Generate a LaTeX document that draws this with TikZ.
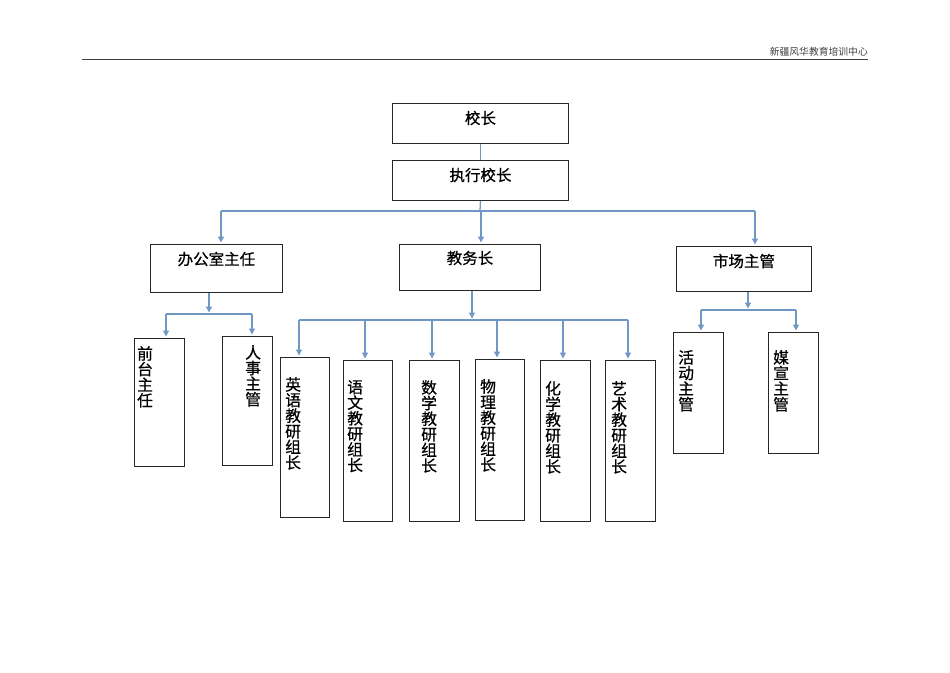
\documentclass[tikz,border=0pt]{standalone}
\usepackage{fontspec}
\setmainfont{Noto Sans CJK SC}[BoldFont={Noto Sans CJK SC}, BoldFeatures={FakeBold=0.6}]
\usetikzlibrary{arrows.meta}
\definecolor{lnblue}{RGB}{112,152,196}
\begin{document}
\begin{tikzpicture}[x=1pt,y=-1pt,
  box/.style={draw=black!85, line width=0.9pt, anchor=north west, inner sep=0pt},
  htext/.style={font=\fontsize{15.5}{16}\selectfont\bfseries, inner sep=0pt, anchor=center},
  vtext/.style={font=\fontsize{15.8}{15.6}\selectfont\bfseries, inner sep=0pt, align=center, anchor=north west},
  conn/.style={draw=lnblue, line width=1.3pt},
  arr/.style={conn, -{Triangle[width=6pt,length=6pt]}, shorten >=1.5pt},
]
\useasboundingbox (0,0) rectangle (950,672);
% header
\node[anchor=south east, inner sep=0pt, font=\fontsize{9.8}{11}\selectfont, text=black!75] (hdr) at (868,56.5) {新疆风华教育培训中心};
\draw[black!75, line width=0.8pt] (82,59.5) coordinate (hl) -- (868,59.5) coordinate (hr);

% top boxes
\node[box, minimum width=176pt, minimum height=40pt, label={[htext, yshift=-15pt]north:校长}] (xz) at (392,103) {};
\node[box, minimum width=176pt, minimum height=40pt, label={[htext, yshift=-15pt]north:执行校长}] (zx) at (392,160) {};
\node[box, minimum width=132pt, minimum height=48pt, label={[htext, yshift=-15pt]north:办公室主任}] (bgs) at (150,244) {};
\node[box, minimum width=141pt, minimum height=46pt, label={[htext, yshift=-14pt]north:教务长}] (jwz) at (399,244) {};
\node[box, minimum width=135pt, minimum height=45pt, label={[htext, yshift=-15pt]north:市场主管}] (sc) at (676,246) {};

% vertical boxes
\node[box, minimum width=50pt, minimum height=128pt, label={[vtext, xshift=3pt, yshift=-8pt]north west:前\\台\\主\\任}] (qt) at (134,338) {};
\node[box, minimum width=50pt, minimum height=129pt, label={[vtext, xshift=23pt, yshift=-9pt]north west:人\\事\\主\\管}] (rs) at (222,336) {};
\node[box, minimum width=49pt, minimum height=160pt, label={[vtext, xshift=5pt, yshift=-20pt]north west:英\\语\\教\\研\\组\\长}] (yy) at (280,357) {};
\node[box, minimum width=49pt, minimum height=161pt, label={[vtext, xshift=4pt, yshift=-20pt]north west:语\\文\\教\\研\\组\\长}] (yw) at (343,360) {};
\node[box, minimum width=50pt, minimum height=161pt, label={[vtext, xshift=12pt, yshift=-20pt]north west:数\\学\\教\\研\\组\\长}] (sx) at (409,360) {};
\node[box, minimum width=49pt, minimum height=161pt, label={[vtext, xshift=5pt, yshift=-20pt]north west:物\\理\\教\\研\\组\\长}] (wl) at (475,359) {};
\node[box, minimum width=50pt, minimum height=161pt, label={[vtext, xshift=5pt, yshift=-21pt]north west:化\\学\\教\\研\\组\\长}] (hx) at (540,360) {};
\node[box, minimum width=50pt, minimum height=161pt, label={[vtext, xshift=6pt, yshift=-21pt]north west:艺\\术\\教\\研\\组\\长}] (ys) at (605,360) {};
\node[box, minimum width=50pt, minimum height=121pt, label={[vtext, xshift=5pt, yshift=-18pt]north west:活\\动\\主\\管}] (hd) at (673,332) {};
\node[box, minimum width=50pt, minimum height=121pt, label={[vtext, xshift=5pt, yshift=-18pt]north west:媒\\宣\\主\\管}] (mx) at (768,332) {};

% connectors: top
\draw[conn] (xz.south) -- (zx.north);
\coordinate (b1) at (480,211);
\coordinate (b1L) at (221,211);
\coordinate (b1R) at (755,211);
\draw[conn] (zx.south) -- (b1);
\draw[conn] (b1L) -- (b1R);
\draw[arr] (b1L) -- (b1L |- bgs.north);
\draw[arr] (481,211) coordinate (b1M) -- (b1M |- jwz.north);
\draw[arr] (b1R) -- (b1R |- sc.north);

% office
\coordinate (b2) at (209,314);
\coordinate (b2L) at (166,314);
\coordinate (b2R) at (252,314);
\draw[arr] (bgs.south -| b2) -- (b2);
\draw[conn] (b2L) -- (b2R);
\draw[arr] (b2L) -- (b2L |- qt.north);
\draw[arr] (b2R) -- (b2R |- rs.north);

% academic
\coordinate (b3) at (472,320);
\coordinate (b3L) at (299,320);
\coordinate (b3R) at (628,320);
\draw[arr] (jwz.south -| b3) -- (b3);
\draw[conn] (b3L) -- (b3R);
\draw[arr] (b3L) -- (b3L |- yy.north);
\draw[arr] (365,320) coordinate (c2) -- (c2 |- yw.north);
\draw[arr] (432,320) coordinate (c3) -- (c3 |- sx.north);
\draw[arr] (497,320) coordinate (c4) -- (c4 |- wl.north);
\draw[arr] (563,320) coordinate (c5) -- (c5 |- hx.north);
\draw[arr] (b3R) -- (b3R |- ys.north);

% market
\coordinate (b4) at (748,310);
\coordinate (b4L) at (701,310);
\coordinate (b4R) at (796,310);
\draw[arr] (sc.south -| b4) -- (b4);
\draw[conn] (b4L) -- (b4R);
\draw[arr] (b4L) -- (b4L |- hd.north);
\draw[arr] (b4R) -- (b4R |- mx.north);
\end{tikzpicture}
\end{document}
